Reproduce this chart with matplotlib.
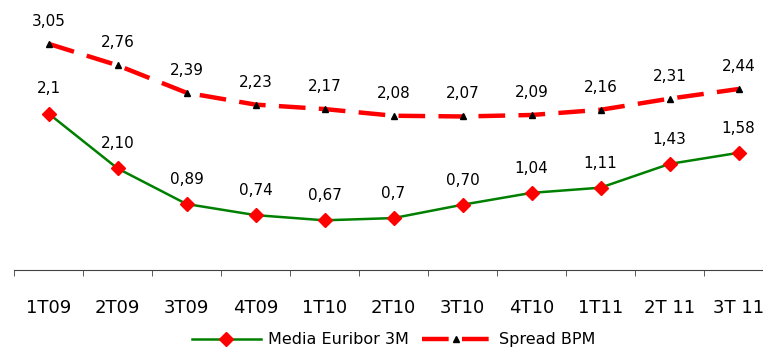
import matplotlib.pyplot as plt
from matplotlib.ticker import FixedLocator

quarters = ['1T09', '2T09', '3T09', '4T09', '1T10', '2T10', '3T10',
            '4T10', '1T11', '2T 11', '3T 11']

# positions; labels as printed on the chart
euribor = [2.11, 1.37, 0.89, 0.74, 0.67, 0.70, 0.88, 1.04, 1.11, 1.43, 1.58]
euribor_labels = ['2,1', '2,10', '0,89', '0,74', '0,67', '0,7', '0,70',
                  '1,04', '1,11', '1,43', '1,58']

spread = [3.05, 2.76, 2.39, 2.23, 2.17, 2.08, 2.07, 2.09, 2.16, 2.31, 2.44]
spread_labels = ['3,05', '2,76', '2,39', '2,23', '2,17', '2,08', '2,07',
                 '2,09', '2,16', '2,31', '2,44']

fig = plt.figure(figsize=(7.63, 3.47), dpi=100)
ax = fig.add_axes([14/763, 77/347, 759/763, 267/347])

x = list(range(len(quarters)))

ax.plot(x, euribor, color='#008000', lw=1.8, marker='D', ms=7,
        mfc='red', mec='red', label='Media Euribor 3M', zorder=3)
ax.plot(x, spread, color='red', lw=3.2, dashes=(6, 3), marker='^', ms=5,
        mfc='black', mec='black', label='Spread BPM', zorder=3)

for xi, v, t in zip(x, euribor, euribor_labels):
    ax.annotate(t, (xi, v), xytext=(0, 14.5), textcoords='offset points',
                ha='center', va='baseline', fontsize=11)
for xi, v, t in zip(x, spread, spread_labels):
    ax.annotate(t, (xi, v), xytext=(0, 13), textcoords='offset points',
                ha='center', va='baseline', fontsize=11)

ax.set_xlim(-0.5, len(quarters) - 0.5)
ax.set_ylim(0, 3.6)

for s in ['top', 'right', 'left']:
    ax.spines[s].set_visible(False)
ax.spines['bottom'].set_color('#404040')
ax.set_yticks([])

ax.set_xticks(x)
ax.set_xticklabels(quarters, fontsize=13)
ax.tick_params(axis='x', which='major', length=0, pad=21)
ax.xaxis.set_minor_locator(FixedLocator([i - 0.5 for i in range(len(quarters) + 1)]))
ax.tick_params(axis='x', which='minor', length=4, color='#404040', direction='out')

ax.legend(loc='center', bbox_to_anchor=(0.5, -0.262), ncol=2, frameon=False,
          fontsize=11.5, handlelength=4.3, handletextpad=0.5, columnspacing=0.8)

fig.savefig('out.png', dpi=100)
